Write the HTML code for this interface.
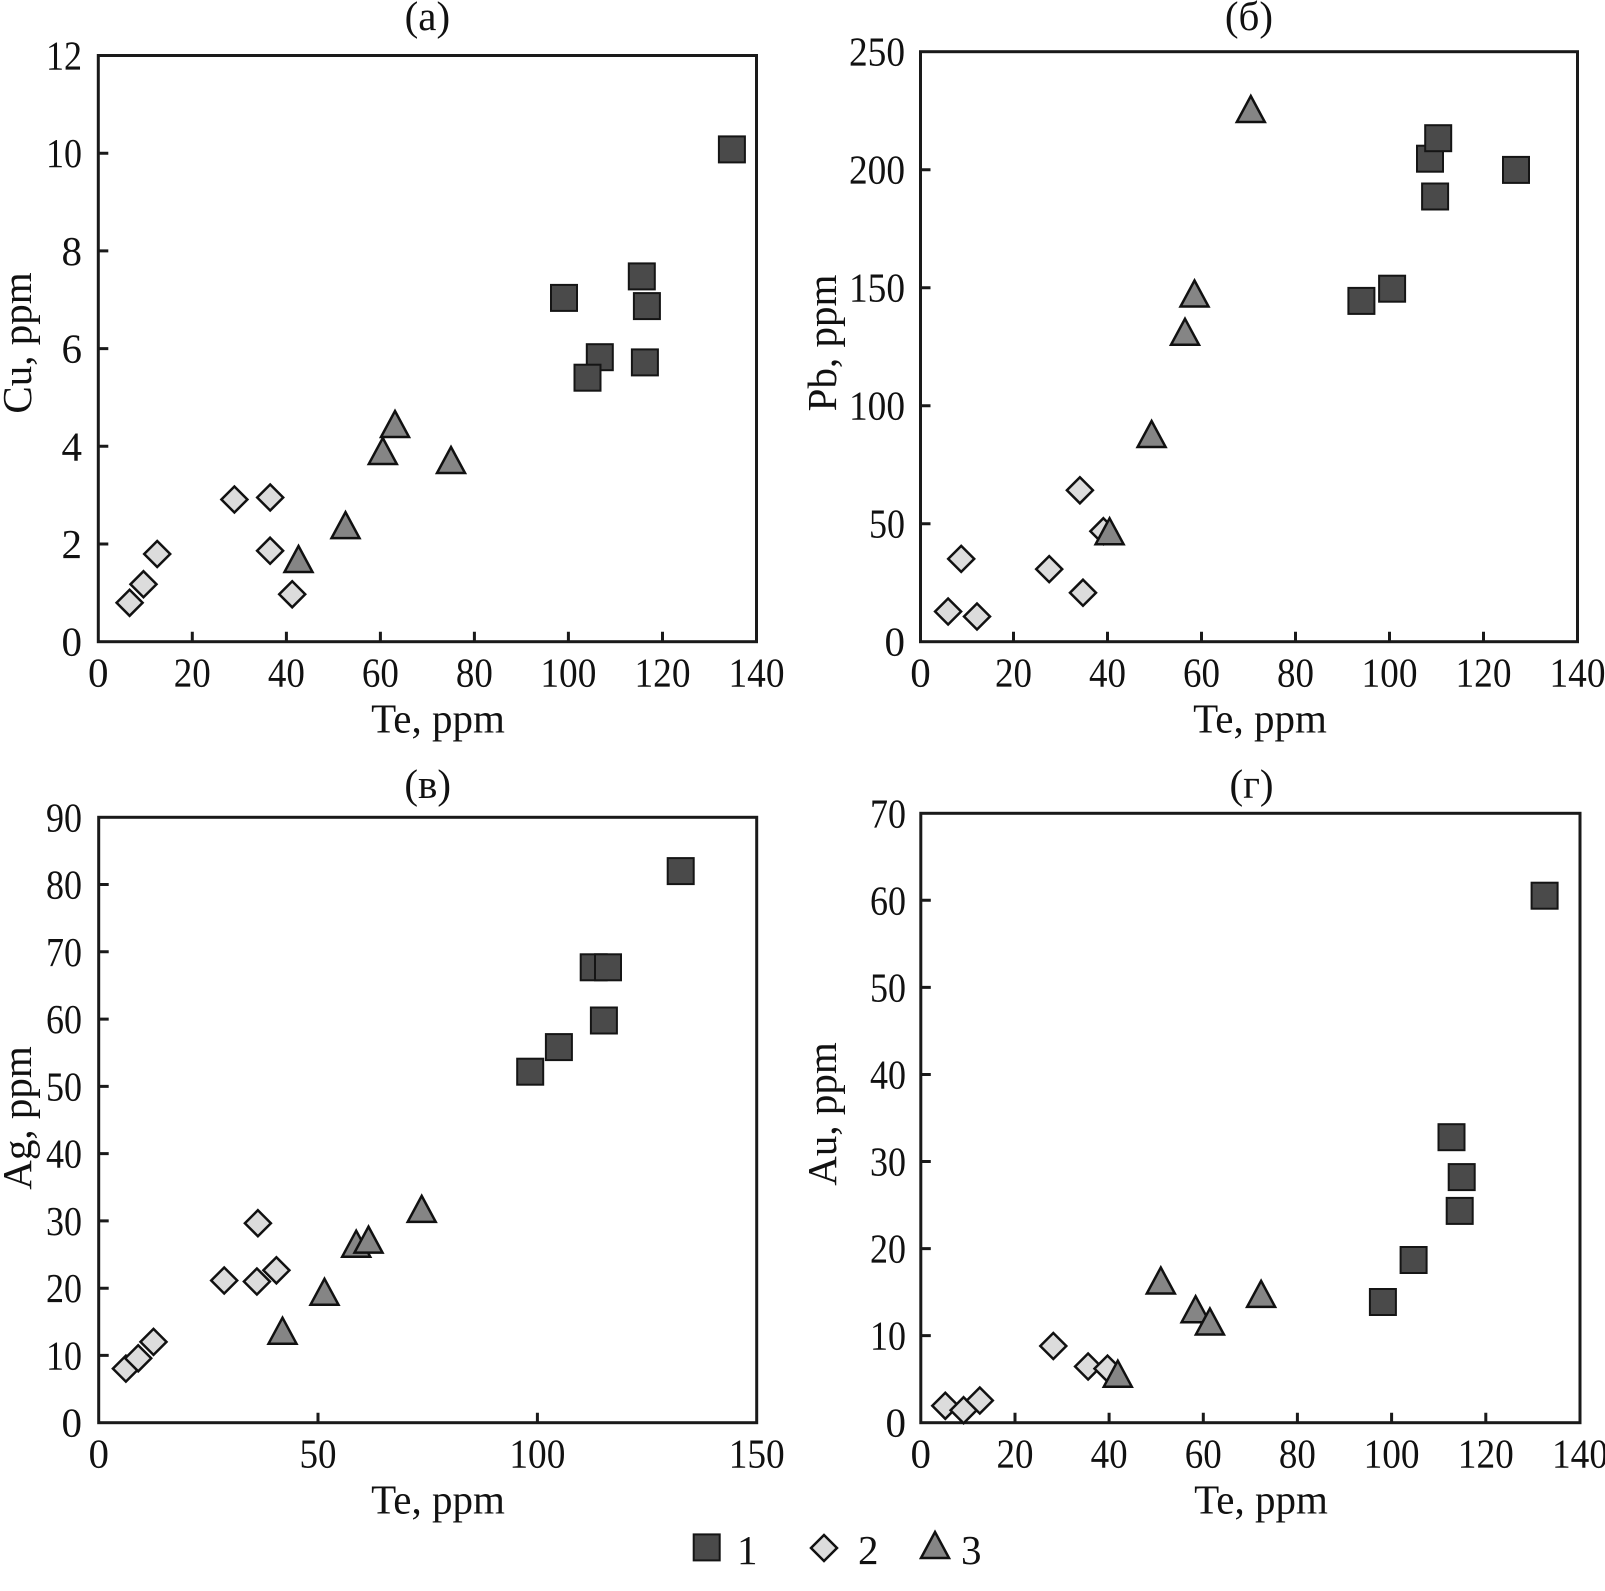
<!DOCTYPE html>
<html>
<head>
<meta charset="utf-8">
<style>
html,body{margin:0;padding:0;background:#fff;}
svg{display:block;}
text{font-family:"Liberation Serif","DejaVu Serif",serif;fill:#111;}
</style>
</head>
<body>
<svg width="1605" height="1591" viewBox="0 0 1605 1591" xmlns="http://www.w3.org/2000/svg">
<defs>
  <g id="sq"><rect x="-13" y="-13" width="26" height="26" fill="#4a4a4a" stroke="#151515" stroke-width="2"/></g>
  <g id="dm"><polygon points="0,-13 13,0 0,13 -13,0" fill="#dcdcdc" stroke="#111" stroke-width="2.5"/></g>
  <g id="tr"><polygon points="0,-14 14,12 -14,12" fill="#858585" stroke="#111" stroke-width="2.5"/></g>
</defs>

<!-- ================= PANEL A ================= -->
<g stroke="#1a1a1a" stroke-width="3" fill="none">
  <rect x="98.3" y="55.5" width="658.2" height="586.2"/>
  <!-- y ticks -->
  <path d="M98.3 544h10M98.3 446.3h10M98.3 348.6h10M98.3 250.9h10M98.3 153.2h10"/>
  <!-- x ticks -->
  <path d="M192.3 641.7v-10M286.4 641.7v-10M380.4 641.7v-10M474.4 641.7v-10M568.4 641.7v-10M662.5 641.7v-10"/>
</g>
<g font-size="41" text-anchor="end">
  <text x="82" y="655.7">0</text>
  <text x="82" y="558">2</text>
  <text x="82" y="460.3">4</text>
  <text x="82" y="362.6">6</text>
  <text x="82" y="264.9">8</text>
  <text x="82" y="167.2" textLength="36" lengthAdjust="spacingAndGlyphs">10</text>
  <text x="82" y="69.5" textLength="36" lengthAdjust="spacingAndGlyphs">12</text>
</g>
<g font-size="41" text-anchor="middle">
  <text x="98.3" y="686.7">0</text>
  <text x="192.3" y="686.7" textLength="37" lengthAdjust="spacingAndGlyphs">20</text>
  <text x="286.4" y="686.7" textLength="37" lengthAdjust="spacingAndGlyphs">40</text>
  <text x="380.4" y="686.7" textLength="37" lengthAdjust="spacingAndGlyphs">60</text>
  <text x="474.4" y="686.7" textLength="37" lengthAdjust="spacingAndGlyphs">80</text>
  <text x="568.4" y="686.7" textLength="56" lengthAdjust="spacingAndGlyphs">100</text>
  <text x="662.5" y="686.7" textLength="56" lengthAdjust="spacingAndGlyphs">120</text>
  <text x="756.5" y="686.7" textLength="56" lengthAdjust="spacingAndGlyphs">140</text>
  <text x="438" y="732.7">Te, ppm</text>
  <text x="427.4" y="30">(a)</text>
</g>
<text font-size="41" text-anchor="middle" transform="translate(31,343) rotate(-90)">Cu, ppm</text>
<g>
  <use href="#sq" x="731.9" y="149.4"/>
  <use href="#sq" x="564.0" y="297.9"/>
  <use href="#sq" x="641.8" y="276.4"/>
  <use href="#sq" x="646.9" y="306.1"/>
  <use href="#sq" x="599.8" y="357.2"/>
  <use href="#sq" x="587.5" y="377.7"/>
  <use href="#sq" x="644.9" y="362.4"/>
  <use href="#dm" x="129.6" y="602.8"/>
  <use href="#dm" x="143.5" y="584.2"/>
  <use href="#dm" x="157.2" y="554.0"/>
  <use href="#dm" x="234.4" y="499.5"/>
  <use href="#dm" x="270.2" y="497.5"/>
  <use href="#dm" x="270.1" y="550.7"/>
  <use href="#dm" x="292.2" y="594.3"/>
  <use href="#tr" x="298.5" y="560"/>
  <use href="#tr" x="345.5" y="526.1"/>
  <use href="#tr" x="382.8" y="452"/>
  <use href="#tr" x="395" y="425"/>
  <use href="#tr" x="451" y="461"/>
</g>

<!-- ================= PANEL B ================= -->
<g stroke="#1a1a1a" stroke-width="3" fill="none">
  <rect x="920.5" y="51.7" width="657" height="590"/>
  <path d="M920.5 523.7h10M920.5 405.7h10M920.5 287.7h10M920.5 169.7h10"/>
  <path d="M1013.5 641.7v-10M1107.5 641.7v-10M1201.5 641.7v-10M1295.5 641.7v-10M1389.5 641.7v-10M1483.5 641.7v-10"/>
</g>
<g font-size="41" text-anchor="end">
  <text x="905" y="655.7">0</text>
  <text x="905" y="537.7" textLength="36" lengthAdjust="spacingAndGlyphs">50</text>
  <text x="905" y="419.7" textLength="56" lengthAdjust="spacingAndGlyphs">100</text>
  <text x="905" y="301.7" textLength="56" lengthAdjust="spacingAndGlyphs">150</text>
  <text x="905" y="183.7" textLength="56" lengthAdjust="spacingAndGlyphs">200</text>
  <text x="905" y="65.7" textLength="56" lengthAdjust="spacingAndGlyphs">250</text>
</g>
<g font-size="41" text-anchor="middle">
  <text x="920.5" y="686.7">0</text>
  <text x="1013.5" y="686.7" textLength="37" lengthAdjust="spacingAndGlyphs">20</text>
  <text x="1107.5" y="686.7" textLength="37" lengthAdjust="spacingAndGlyphs">40</text>
  <text x="1201.5" y="686.7" textLength="37" lengthAdjust="spacingAndGlyphs">60</text>
  <text x="1295.5" y="686.7" textLength="37" lengthAdjust="spacingAndGlyphs">80</text>
  <text x="1389.5" y="686.7" textLength="56" lengthAdjust="spacingAndGlyphs">100</text>
  <text x="1483.5" y="686.7" textLength="56" lengthAdjust="spacingAndGlyphs">120</text>
  <text x="1577.5" y="686.7" textLength="56" lengthAdjust="spacingAndGlyphs">140</text>
  <text x="1260" y="732.7">Te, ppm</text>
  <text x="1249" y="30">(б)</text>
</g>
<text font-size="41" text-anchor="middle" transform="translate(836,343) rotate(-90)">Pb, ppm</text>
<g>
  <use href="#sq" x="1516" y="169.9"/>
  <use href="#sq" x="1430" y="158.7"/>
  <use href="#sq" x="1438.2" y="138.2"/>
  <use href="#sq" x="1435.1" y="196.5"/>
  <use href="#sq" x="1361.4" y="300.9"/>
  <use href="#sq" x="1392.1" y="288.7"/>
  <use href="#dm" x="948.1" y="611.5"/>
  <use href="#dm" x="961.2" y="558.9"/>
  <use href="#dm" x="977" y="616.5"/>
  <use href="#dm" x="1049.2" y="569.1"/>
  <use href="#dm" x="1079.9" y="490.3"/>
  <use href="#dm" x="1083" y="592.7"/>
  <use href="#dm" x="1103.4" y="531.2"/>
  <use href="#tr" x="1250.8" y="110"/>
  <use href="#tr" x="1194.5" y="294.5"/>
  <use href="#tr" x="1185" y="332.8"/>
  <use href="#tr" x="1151.6" y="435"/>
  <use href="#tr" x="1109.6" y="532.3"/>
</g>

<!-- ================= PANEL C ================= -->
<g stroke="#1a1a1a" stroke-width="3" fill="none">
  <rect x="98.7" y="817.3" width="658" height="605.4"/>
  <path d="M98.7 1355.4h10M98.7 1288.2h10M98.7 1220.9h10M98.7 1153.6h10M98.7 1086.4h10M98.7 1019.1h10M98.7 951.8h10M98.7 884.5h10"/>
  <path d="M318 1422.7v-10M537.4 1422.7v-10"/>
</g>
<g font-size="41" text-anchor="end">
  <text x="82" y="1436.7">0</text>
  <text x="82" y="1369.4" textLength="36" lengthAdjust="spacingAndGlyphs">10</text>
  <text x="82" y="1302.2" textLength="36" lengthAdjust="spacingAndGlyphs">20</text>
  <text x="82" y="1234.9" textLength="36" lengthAdjust="spacingAndGlyphs">30</text>
  <text x="82" y="1167.6" textLength="36" lengthAdjust="spacingAndGlyphs">40</text>
  <text x="82" y="1100.4" textLength="36" lengthAdjust="spacingAndGlyphs">50</text>
  <text x="82" y="1033.1" textLength="36" lengthAdjust="spacingAndGlyphs">60</text>
  <text x="82" y="965.8" textLength="36" lengthAdjust="spacingAndGlyphs">70</text>
  <text x="82" y="898.5" textLength="36" lengthAdjust="spacingAndGlyphs">80</text>
  <text x="82" y="831.3" textLength="36" lengthAdjust="spacingAndGlyphs">90</text>
</g>
<g font-size="41" text-anchor="middle">
  <text x="98.7" y="1467.7">0</text>
  <text x="318" y="1467.7" textLength="37" lengthAdjust="spacingAndGlyphs">50</text>
  <text x="537.4" y="1467.7" textLength="56" lengthAdjust="spacingAndGlyphs">100</text>
  <text x="756.7" y="1467.7" textLength="56" lengthAdjust="spacingAndGlyphs">150</text>
  <text x="438" y="1513.7">Te, ppm</text>
  <text x="427.7" y="798">(в)</text>
</g>
<text font-size="41" text-anchor="middle" transform="translate(31,1118) rotate(-90)">Ag, ppm</text>
<g>
  <use href="#sq" x="680.7" y="871.1"/>
  <use href="#sq" x="593.7" y="967.3"/>
  <use href="#sq" x="608" y="967.3"/>
  <use href="#sq" x="603.9" y="1020.5"/>
  <use href="#sq" x="558.9" y="1047.1"/>
  <use href="#sq" x="530.2" y="1071.7"/>
  <use href="#dm" x="125.9" y="1368.6"/>
  <use href="#dm" x="138.2" y="1358.3"/>
  <use href="#dm" x="153.5" y="1341.9"/>
  <use href="#dm" x="224.2" y="1280.5"/>
  <use href="#dm" x="257.9" y="1223.2"/>
  <use href="#dm" x="256.9" y="1281.5"/>
  <use href="#dm" x="276.4" y="1270.3"/>
  <use href="#tr" x="282.5" y="1331.7"/>
  <use href="#tr" x="324.5" y="1292.8"/>
  <use href="#tr" x="356.2" y="1244.7"/>
  <use href="#tr" x="368.5" y="1240.6"/>
  <use href="#tr" x="421.7" y="1209.9"/>
</g>

<!-- ================= PANEL D ================= -->
<g stroke="#1a1a1a" stroke-width="3" fill="none">
  <rect x="920.8" y="813.3" width="659.2" height="609.4"/>
  <path d="M920.8 1335.6h10M920.8 1248.6h10M920.8 1161.5h10M920.8 1074.5h10M920.8 987.4h10M920.8 900.3h10"/>
  <path d="M1015 1422.7v-10M1109.1 1422.7v-10M1203.3 1422.7v-10M1297.4 1422.7v-10M1391.6 1422.7v-10M1485.8 1422.7v-10"/>
</g>
<g font-size="41" text-anchor="end">
  <text x="906" y="1436.7">0</text>
  <text x="906" y="1349.6" textLength="36" lengthAdjust="spacingAndGlyphs">10</text>
  <text x="906" y="1262.6" textLength="36" lengthAdjust="spacingAndGlyphs">20</text>
  <text x="906" y="1175.5" textLength="36" lengthAdjust="spacingAndGlyphs">30</text>
  <text x="906" y="1088.5" textLength="36" lengthAdjust="spacingAndGlyphs">40</text>
  <text x="906" y="1001.4" textLength="36" lengthAdjust="spacingAndGlyphs">50</text>
  <text x="906" y="914.3" textLength="36" lengthAdjust="spacingAndGlyphs">60</text>
  <text x="906" y="827.3" textLength="36" lengthAdjust="spacingAndGlyphs">70</text>
</g>
<g font-size="41" text-anchor="middle">
  <text x="920.8" y="1467.7">0</text>
  <text x="1015" y="1467.7" textLength="37" lengthAdjust="spacingAndGlyphs">20</text>
  <text x="1109.1" y="1467.7" textLength="37" lengthAdjust="spacingAndGlyphs">40</text>
  <text x="1203.3" y="1467.7" textLength="37" lengthAdjust="spacingAndGlyphs">60</text>
  <text x="1297.4" y="1467.7" textLength="37" lengthAdjust="spacingAndGlyphs">80</text>
  <text x="1391.6" y="1467.7" textLength="56" lengthAdjust="spacingAndGlyphs">100</text>
  <text x="1485.8" y="1467.7" textLength="56" lengthAdjust="spacingAndGlyphs">120</text>
  <text x="1580" y="1467.7" textLength="56" lengthAdjust="spacingAndGlyphs">140</text>
  <text x="1261" y="1513.7">Te, ppm</text>
  <text x="1251.5" y="798">(г)</text>
</g>
<text font-size="41" text-anchor="middle" transform="translate(836,1114) rotate(-90)">Au, ppm</text>
<g>
  <use href="#sq" x="1544.6" y="895.7"/>
  <use href="#sq" x="1451.5" y="1137.2"/>
  <use href="#sq" x="1461.7" y="1177.1"/>
  <use href="#sq" x="1459.7" y="1210.9"/>
  <use href="#sq" x="1413.6" y="1260"/>
  <use href="#sq" x="1382.9" y="1302"/>
  <use href="#dm" x="945.3" y="1405.8"/>
  <use href="#dm" x="963.6" y="1410.2"/>
  <use href="#dm" x="979.8" y="1400.5"/>
  <use href="#dm" x="1053.3" y="1346"/>
  <use href="#dm" x="1088.1" y="1366.5"/>
  <use href="#dm" x="1107.5" y="1368.6"/>
  <use href="#tr" x="1160.8" y="1281.5"/>
  <use href="#tr" x="1195.6" y="1310.2"/>
  <use href="#tr" x="1209.9" y="1322.5"/>
  <use href="#tr" x="1261.1" y="1294.9"/>
  <use href="#tr" x="1117.8" y="1374.7"/>
</g>

<!-- ================= LEGEND ================= -->
<g>
  <use href="#sq" x="706.7" y="1547.4"/>
  <use href="#dm" x="824" y="1548"/>
  <use href="#tr" x="935" y="1546"/>
</g>
<g font-size="41">
  <text x="737" y="1564">1</text>
  <text x="858" y="1564">2</text>
  <text x="961" y="1564">3</text>
</g>
</svg>
</body>
</html>
